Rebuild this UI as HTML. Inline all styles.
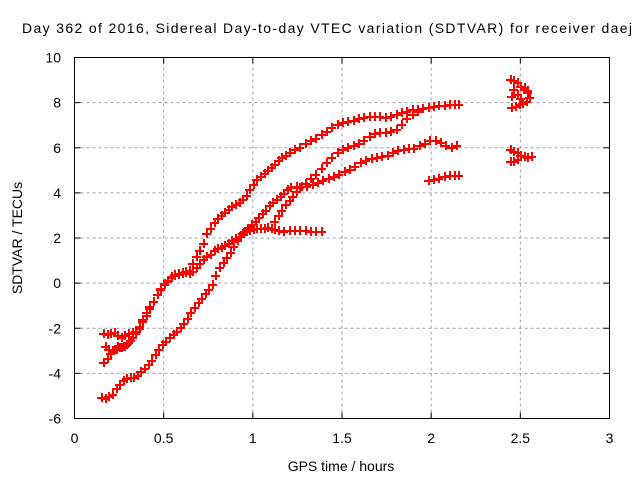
<!DOCTYPE html>
<html><head><meta charset="utf-8"><style>
body{margin:0;background:#fff}
svg{display:block;font-family:"Liberation Sans",sans-serif}
</style></head><body>
<svg id="chart" width="640" height="480" viewBox="0 0 640 480" xmlns="http://www.w3.org/2000/svg">
<rect width="640" height="480" fill="#fff"/>
<text x="22" y="33" font-size="14" textLength="610" lengthAdjust="spacing">Day 362 of 2016, Sidereal Day-to-day VTEC variation (SDTVAR) for receiver daej</text>
<text x="341" y="471" font-size="14" text-anchor="middle">GPS time / hours</text>
<text transform="translate(22,238) rotate(-90)" font-size="14" text-anchor="middle">SDTVAR / TECUs</text>
<g id="grid"></g>
<g id="ticks"></g>
<g id="marks" shape-rendering="crispEdges"></g>
<rect x="74.5" y="57.5" width="535" height="361" fill="none" stroke="#000" stroke-width="1"/>
</svg>
<script>
const xTicks = [0, 0.5, 1, 1.5, 2, 2.5, 3];
const xTickLabels = ["0", "0.5", "1", "1.5", "2", "2.5", "3"];
const yTicks = [-6, -4, -2, 0, 2, 4, 6, 8, 10];
const yTickLabels = ["-6", "-4", "-2", "0", "2", "4", "6", "8", "10"];
const seriesA = [[0.16,-2.2],[0.18,-2.25],[0.20,-2.2],[0.22,-2.15],[0.24,-2.3],[0.26,-2.4],[0.28,-2.3],[0.30,-2.2],[0.32,-2.15],[0.34,-2.1],[0.36,-1.9],[0.38,-1.6],[0.40,-1.3],[0.42,-1.0],[0.44,-0.8],[0.46,-0.5],[0.48,-0.2],[0.50,0.0],[0.52,0.15],[0.54,0.3],[0.56,0.4],[0.58,0.45],[0.60,0.5],[0.62,0.55],[0.64,0.6],[0.66,0.9],[0.68,1.2],[0.70,1.45],[0.72,1.8],[0.74,2.2],[0.76,2.45],[0.78,2.7],[0.80,2.9],[0.82,3.0],[0.84,3.15],[0.86,3.3],[0.88,3.4],[0.90,3.5],[0.92,3.6],[0.94,3.75],[0.96,3.9],[0.98,4.15],[1.00,4.4],[1.02,4.6],[1.04,4.75],[1.06,4.9],[1.08,5.0],[1.10,5.15],[1.12,5.3],[1.14,5.45],[1.16,5.6],[1.18,5.7],[1.20,5.8],[1.23,5.95],[1.26,6.05],[1.29,6.2],[1.32,6.35],[1.35,6.45],[1.38,6.6],[1.41,6.75],[1.44,6.9],[1.47,7.05],[1.50,7.15],[1.53,7.2],[1.56,7.25],[1.59,7.3],[1.62,7.35],[1.65,7.4],[1.68,7.4],[1.71,7.4],[1.74,7.38],[1.77,7.4],[1.80,7.5],[1.83,7.6],[1.86,7.65],[1.89,7.7],[1.92,7.7],[1.95,7.75],[1.98,7.8],[2.01,7.85],[2.04,7.9],[2.07,7.9],[2.10,7.95],[2.13,7.95],[2.15,7.95]];
const seriesB = [[0.16,-3.5],[0.18,-3.3],[0.20,-3.1],[0.22,-2.9],[0.24,-2.8],[0.26,-2.85],[0.28,-2.8],[0.30,-2.6],[0.32,-2.4],[0.34,-2.2],[0.36,-2.0],[0.38,-1.7],[0.40,-1.4],[0.42,-1.1],[0.44,-0.8],[0.46,-0.5],[0.48,-0.25],[0.50,-0.05],[0.52,0.1],[0.54,0.25],[0.56,0.35],[0.58,0.4],[0.60,0.45],[0.62,0.5],[0.64,0.45],[0.66,0.55],[0.68,0.7],[0.70,0.9],[0.72,1.05],[0.74,1.2],[0.76,1.3],[0.78,1.45],[0.80,1.55],[0.82,1.6],[0.84,1.7],[0.86,1.8],[0.88,1.9],[0.90,2.0],[0.92,2.1],[0.94,2.2],[0.96,2.3],[0.98,2.35],[1.00,2.4],[1.02,2.45],[1.04,2.45],[1.06,2.45],[1.08,2.5],[1.10,2.45],[1.12,2.4],[1.14,2.35],[1.17,2.3],[1.20,2.35],[1.23,2.35],[1.26,2.35],[1.29,2.35],[1.32,2.3],[1.35,2.3],[1.38,2.3]];
const seriesC = [[0.15,-5.05],[0.17,-5.1],[0.19,-5.0],[0.21,-4.9],[0.23,-4.65],[0.25,-4.45],[0.27,-4.3],[0.29,-4.2],[0.31,-4.15],[0.33,-4.15],[0.35,-4.05],[0.37,-3.9],[0.39,-3.75],[0.41,-3.6],[0.43,-3.4],[0.45,-3.15],[0.47,-2.9],[0.49,-2.7],[0.51,-2.55],[0.53,-2.4],[0.55,-2.25],[0.57,-2.1],[0.59,-1.95],[0.61,-1.75],[0.63,-1.55],[0.65,-1.3],[0.67,-1.05],[0.69,-0.85],[0.71,-0.65],[0.73,-0.45],[0.75,-0.25],[0.77,-0.05],[0.79,0.35],[0.81,0.7],[0.83,0.95],[0.85,1.15],[0.87,1.4],[0.89,1.65],[0.91,1.9],[0.93,2.1],[0.95,2.3],[0.97,2.45],[0.99,2.6],[1.01,2.75],[1.03,2.95],[1.05,3.1],[1.07,3.25],[1.09,3.45],[1.11,3.6],[1.13,3.75],[1.15,3.85],[1.17,4.0],[1.19,4.15],[1.21,4.25],[1.24,4.3],[1.27,4.3],[1.30,4.3],[1.33,4.4],[1.36,4.5],[1.39,4.55],[1.42,4.65],[1.45,4.75],[1.48,4.85],[1.51,4.95],[1.54,5.05],[1.57,5.2],[1.60,5.35],[1.63,5.45],[1.66,5.55],[1.69,5.6],[1.72,5.65],[1.75,5.7],[1.78,5.8],[1.81,5.9],[1.84,5.95],[1.87,6.0],[1.90,6.0],[1.93,6.1],[1.96,6.2],[1.99,6.35],[2.02,6.35],[2.05,6.25],[2.08,6.1],[2.11,6.05],[2.14,6.1]];
const seriesD = [[0.17,-2.8],[0.19,-2.9],[0.21,-2.95],[0.23,-2.9],[0.25,-2.85],[0.27,-2.8],[0.29,-2.7],[0.31,-2.5]];
const seriesE = [[1.12,2.75],[1.14,3.0],[1.16,3.25],[1.18,3.5],[1.20,3.7],[1.22,3.85],[1.24,4.1],[1.26,4.25],[1.29,4.45],[1.32,4.65],[1.35,4.85],[1.38,5.1],[1.41,5.35],[1.44,5.6],[1.47,5.8],[1.50,5.95],[1.53,6.05],[1.56,6.1],[1.59,6.2],[1.62,6.35],[1.65,6.5],[1.68,6.65],[1.71,6.7],[1.74,6.7],[1.77,6.75],[1.80,6.85],[1.83,7.05],[1.86,7.3],[1.89,7.5],[1.92,7.65],[1.95,7.75],[1.98,7.8]];
const seriesF = [[1.98,4.55],[2.01,4.6],[2.04,4.65],[2.07,4.75],[2.10,4.8],[2.13,4.8],[2.15,4.8]];
const seriesG = [[2.44,9.05],[2.46,9.0],[2.48,8.9],[2.50,8.75],[2.52,8.6],[2.54,8.45],[2.55,8.25],[2.53,8.05],[2.51,8.0],[2.49,7.95],[2.47,7.85],[2.45,7.8],[2.45,8.3],[2.46,8.6],[2.48,8.4],[2.50,8.2],[2.52,8.7],[2.54,8.55]];
const seriesH = [[2.44,5.95],[2.46,5.85],[2.48,5.8],[2.50,5.7],[2.52,5.65],[2.54,5.6],[2.56,5.65],[2.44,5.4],[2.46,5.4],[2.48,5.5]];

const NS = "http://www.w3.org/2000/svg";
const X0 = 74.5, X1 = 609.5, Y0 = 418.5, Y1 = 57.5;
function xs(v){ return X0 + (v - 0) / 3 * (X1 - X0); }
function ys(v){ return Y0 - (v + 6) / 16 * (Y0 - Y1); }
function mk(tag, attrs, parent){ const e = document.createElementNS(NS, tag); for (const k in attrs) e.setAttribute(k, attrs[k]); parent.appendChild(e); return e; }
const grid = document.getElementById('grid'), ticks = document.getElementById('ticks'), marks = document.getElementById('marks');
xTicks.forEach((t, i) => {
  const x = xs(t);
  if (i > 0 && i < xTicks.length - 1) {
    const g = mk('line', {x1:x, x2:x, y1:Y0, y2:Y1, stroke:'#a0a0a0', 'stroke-dasharray':'3,3'}, grid);
    
    
  }
  mk('line', {x1:x, x2:x, y1:Y0, y2:Y0-6, stroke:'#000'}, ticks);
  mk('line', {x1:x, x2:x, y1:Y1, y2:Y1+6, stroke:'#000'}, ticks);
  const tl = mk('text', {x:x, y:443, 'font-size':14, 'text-anchor':'middle'}, ticks);
  tl.textContent = xTickLabels[i];
  
  
});
yTicks.forEach((t, i) => {
  const y = ys(t);
  if (i > 0 && i < yTicks.length - 1) {
    const g = mk('line', {x1:X0, x2:X1, y1:y, y2:y, stroke:'#a0a0a0', 'stroke-dasharray':'3,3'}, grid);
    
    
  }
  mk('line', {x1:X0, x2:X0+6, y1:y, y2:y, stroke:'#000'}, ticks);
  mk('line', {x1:X1, x2:X1-6, y1:y, y2:y, stroke:'#000'}, ticks);
  const tl = mk('text', {x:61, y:y+5, 'font-size':14, 'text-anchor':'end'}, ticks);
  tl.textContent = yTickLabels[i];
  
  
});
[seriesA, seriesB, seriesC, seriesD, seriesE, seriesF, seriesG, seriesH].forEach((s) => {
  s.forEach((p) => {
    const cx = Math.round(xs(p[0])) + 0.5, cy = Math.round(ys(p[1])) + 0.5;
    const m = mk('path', {d:`M${cx-4.5},${cy}H${cx+4.5}M${cx},${cy-4.5}V${cy+4.5}M${cx-4.5},${cy+1}H${cx+4.5}M${cx+1},${cy-4.5}V${cy+4.5}`, stroke:'#f00', 'stroke-width':1, fill:'none'}, marks);
    
    
  });
});
</script>
</body></html>
